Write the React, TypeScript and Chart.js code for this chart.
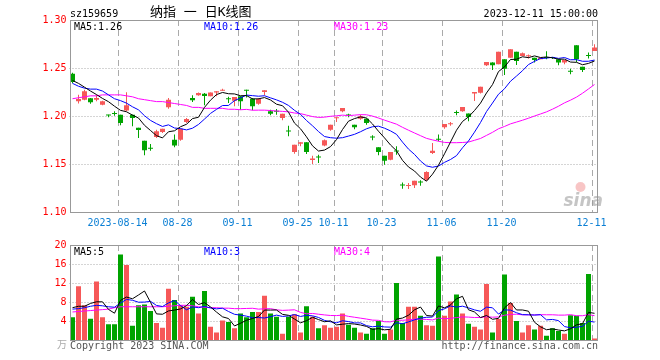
import React, { useEffect, useRef } from 'react';
import { Chart, registerables } from 'chart.js';

Chart.register(...registerables);

// ---------------- data ----------------
const opens = [
  1.2440, 1.2153, 1.2170, 1.2184, 1.2170, 1.2118, 1.2010, 1.2026, 1.2014, 1.2056,
  1.2014, 1.1878, 1.1743, 1.1662, 1.1781, 1.1833, 1.2090, 1.1753, 1.1753, 1.1938,
  1.2187, 1.2215, 1.2233, 1.2205, 1.2246, 1.2264, 1.2178, 1.2160, 1.2205, 1.2268,
  1.2180, 1.2128, 1.2250, 1.2049, 1.2049, 1.1979, 1.1842, 1.1625, 1.1712, 1.1726,
  1.1542, 1.1573, 1.1694, 1.1858, 1.1976, 1.2049, 1.2008, 1.1910, 1.1972, 1.1972,
  1.1780, 1.1674, 1.1587, 1.1545, 1.1635, 1.1280, 1.1270, 1.1278, 1.1310, 1.1337,
  1.1615, 1.1757, 1.1882, 1.1915, 1.2036, 1.2049, 1.2025, 1.2235, 1.2242, 1.2528,
  1.2556, 1.2538, 1.2591, 1.2608, 1.2668, 1.2626, 1.2622, 1.2608, 1.2591, 1.2612,
  1.2610, 1.2591, 1.2556, 1.2464, 1.2737, 1.2514, 1.2628, 1.2678,
];
const highs = [
  1.2450, 1.2222, 1.2274, 1.2187, 1.2222, 1.2160, 1.2014, 1.2049, 1.2014, 1.2247,
  1.2014, 1.1878, 1.1743, 1.1708, 1.1858, 1.1868, 1.2187, 1.1806, 1.1868, 1.1979,
  1.2215, 1.2245, 1.2240, 1.2246, 1.2257, 1.2285, 1.2201, 1.2198, 1.2205, 1.2274,
  1.2187, 1.2187, 1.2267, 1.2066, 1.2073, 1.2024, 1.1899, 1.1701, 1.1726, 1.1726,
  1.1587, 1.1597, 1.1754, 1.1910, 1.1986, 1.2083, 1.2024, 1.1910, 1.2014, 1.1976,
  1.1799, 1.1674, 1.1587, 1.1625, 1.1684, 1.1306, 1.1302, 1.1326, 1.1330, 1.1424,
  1.1719, 1.1806, 1.1917, 1.1938, 1.2056, 1.2094, 1.2025, 1.2249, 1.2305, 1.2563,
  1.2560, 1.2668, 1.2591, 1.2695, 1.2668, 1.2661, 1.2640, 1.2608, 1.2608, 1.2675,
  1.2615, 1.2591, 1.2584, 1.2493, 1.2737, 1.2514, 1.2661, 1.2748,
];
const lows = [
  1.2340, 1.2129, 1.2163, 1.2128, 1.2153, 1.2111, 1.1986, 1.2003, 1.1903, 1.2049,
  1.1892, 1.1771, 1.1590, 1.1639, 1.1771, 1.1823, 1.2076, 1.1674, 1.1743, 1.1927,
  1.2146, 1.2212, 1.2111, 1.2205, 1.2205, 1.2264, 1.2135, 1.2101, 1.2066, 1.2194,
  1.2059, 1.2118, 1.2215, 1.2007, 1.2014, 1.1955, 1.1788, 1.1608, 1.1684, 1.1604,
  1.1500, 1.1511, 1.1684, 1.1847, 1.1938, 1.2038, 1.1986, 1.1861, 1.1962, 1.1910,
  1.1747, 1.1590, 1.1493, 1.1538, 1.1597, 1.1243, 1.1240, 1.1250, 1.1274, 1.1326,
  1.1604, 1.1736, 1.1868, 1.1899, 1.2007, 1.2045, 1.1945, 1.2155, 1.2235, 1.2521,
  1.2479, 1.2538, 1.2427, 1.2608, 1.2531, 1.2626, 1.2598, 1.2556, 1.2591, 1.2591,
  1.2595, 1.2528, 1.2538, 1.2434, 1.2563, 1.2458, 1.2598, 1.2678,
];
const closes = [
  1.2354, 1.2177, 1.2257, 1.2142, 1.2187, 1.2153, 1.2005, 1.2022, 1.1927, 1.2111,
  1.1979, 1.1854, 1.1642, 1.1658, 1.1840, 1.1868, 1.2170, 1.1694, 1.1868, 1.1969,
  1.2163, 1.2240, 1.2208, 1.2246, 1.2257, 1.2274, 1.2175, 1.2198, 1.2153, 1.2264,
  1.2101, 1.2177, 1.2267, 1.2024, 1.2045, 1.2024, 1.1838, 1.1701, 1.1726, 1.1625,
  1.1556, 1.1569, 1.1747, 1.1910, 1.1986, 1.2083, 1.2005, 1.1882, 1.1997, 1.1927,
  1.1776, 1.1625, 1.1535, 1.1625, 1.1630, 1.1276, 1.1280, 1.1326, 1.1306, 1.1417,
  1.1639, 1.1753, 1.1917, 1.1920, 1.2032, 1.2094, 1.1990, 1.2249, 1.2305, 1.2563,
  1.2528, 1.2668, 1.2493, 1.2695, 1.2573, 1.2654, 1.2626, 1.2584, 1.2608, 1.2605,
  1.2605, 1.2556, 1.2584, 1.2460, 1.2591, 1.2479, 1.2624, 1.2713,
];
const ma5 = [
  1.237, 1.234, 1.230, 1.226, 1.2223, 1.2183, 1.2149, 1.2102, 1.2059, 1.2044,
  1.2009, 1.1979, 1.1903, 1.1849, 1.1795, 1.1772, 1.1836, 1.1846, 1.1888, 1.1914,
  1.1973, 1.1987, 1.2090, 1.2165, 1.2223, 1.2245, 1.2232, 1.2230, 1.2211, 1.2213,
  1.2178, 1.2179, 1.2192, 1.2167, 1.2123, 1.2107, 1.2040, 1.1926, 1.1867, 1.1783,
  1.1689, 1.1635, 1.1645, 1.1681, 1.1754, 1.1859, 1.1946, 1.1973, 1.1991, 1.1979,
  1.1917, 1.1841, 1.1772, 1.1698, 1.1638, 1.1538, 1.1469, 1.1427, 1.1364, 1.1321,
  1.1394, 1.1488, 1.1606, 1.1729, 1.1852, 1.1943, 1.1991, 1.2057, 1.2134, 1.2240,
  1.2327, 1.2463, 1.2511, 1.2589, 1.2591, 1.2617, 1.2608, 1.2626, 1.2609, 1.2615,
  1.2606, 1.2592, 1.2592, 1.2562, 1.2559, 1.2534, 1.2548, 1.2573,
];
const ma10 = [
  1.234, 1.231, 1.229, 1.228, 1.228, 1.226, 1.222, 1.218, 1.216, 1.2134,
  1.2096, 1.2064, 1.2003, 1.1954, 1.1920, 1.1891, 1.1908, 1.1875, 1.1869, 1.1855,
  1.1873, 1.1912, 1.1968, 1.2027, 1.2069, 1.2109, 1.2110, 1.2160, 1.2188, 1.2218,
  1.2212, 1.2206, 1.2211, 1.2189, 1.2168, 1.2143, 1.2110, 1.2059, 1.2017, 1.1953,
  1.1898, 1.1838, 1.1786, 1.1774, 1.1769, 1.1774, 1.1791, 1.1809, 1.1836, 1.1867,
  1.1888, 1.1894, 1.1873, 1.1845, 1.1809, 1.1728, 1.1655, 1.1600, 1.1531, 1.1480,
  1.1466, 1.1479, 1.1517, 1.1547, 1.1587, 1.1669, 1.1740, 1.1832, 1.1932, 1.2046,
  1.2135, 1.2227, 1.2284, 1.2362, 1.2416, 1.2472, 1.2536, 1.2569, 1.2599, 1.2603,
  1.2612, 1.2600, 1.2609, 1.2586, 1.2587, 1.2570, 1.2570, 1.2583,
];
const ma30 = [
  1.218, 1.219, 1.220, 1.221, 1.221, 1.222, 1.222, 1.222, 1.222, 1.221,
  1.220, 1.218, 1.217, 1.216, 1.215, 1.215, 1.214, 1.213, 1.212, 1.211,
  1.209, 1.209, 1.208, 1.208, 1.208, 1.208, 1.207, 1.207, 1.2065, 1.2069,
  1.2060, 1.2061, 1.2061, 1.2057, 1.2052, 1.2048, 1.2043, 1.2031, 1.2025, 1.2009,
  1.1994, 1.1985, 1.1988, 1.1997, 1.2002, 1.2009, 1.2004, 1.2009, 1.2014, 1.2013,
  1.1999, 1.1979, 1.1957, 1.1936, 1.1915, 1.1882, 1.1852, 1.1823, 1.1795, 1.1767,
  1.1751, 1.1737, 1.1725, 1.1722, 1.1722, 1.1724, 1.1729, 1.1747, 1.1766, 1.1798,
  1.1830, 1.1867, 1.1891, 1.1918, 1.1937, 1.1956, 1.1977, 1.2000, 1.2021, 1.2043,
  1.2071, 1.2102, 1.2137, 1.2165, 1.2197, 1.2237, 1.2282, 1.2328,
];
const volumes = [
  4.8, 11.3, 7.3, 4.5, 12.3, 4.8, 3.3, 3.3, 18.0, 15.8,
  3.0, 7.3, 7.5, 6.1, 3.6, 2.6, 10.8, 8.4, 7.3, 7.0,
  9.1, 5.6, 10.3, 2.8, 1.6, 4.1, 3.8, 2.5, 5.6, 4.8,
  5.9, 5.9, 9.3, 5.6, 4.9, 1.3, 4.9, 5.4, 1.6, 7.1,
  4.9, 2.5, 3.1, 2.6, 2.8, 5.6, 3.2, 2.6, 1.6, 1.3,
  2.5, 4.0, 1.3, 2.2, 12.0, 3.6, 7.0, 7.0, 5.1, 3.1,
  3.0, 17.6, 5.1, 8.1, 9.6, 5.6, 3.4, 2.8, 2.2, 11.8,
  1.6, 4.4, 13.8, 7.8, 4.0, 1.6, 3.1, 2.2, 3.0, 0.9,
  2.5, 1.9, 1.3, 5.2, 5.1, 3.6, 13.9, 0.3,
];
const volMa5 = [
  6.8, 7.1, 7.1, 7.7, 8.04, 8.04, 6.44, 5.64, 8.34, 9.04,
  8.68, 9.48, 10.32, 7.94, 5.5, 5.42, 6.12, 6.3, 6.54, 7.22,
  8.52, 7.48, 7.86, 6.96, 5.88, 4.88, 4.52, 2.96, 3.52, 4.16,
  4.52, 4.94, 6.3, 6.3, 6.32, 5.4, 5.2, 4.42, 3.62, 4.06,
  4.78, 4.3, 3.84, 4.04, 3.18, 3.32, 3.46, 3.36, 3.16, 2.86,
  2.24, 2.4, 2.14, 2.26, 4.4, 4.62, 5.22, 6.36, 6.94, 5.16,
  5.04, 7.16, 6.78, 7.38, 8.68, 9.2, 6.36, 5.9, 4.72, 5.16,
  4.36, 4.56, 6.76, 7.88, 6.32, 6.32, 6.06, 3.74, 2.78, 2.16,
  2.34, 2.1, 1.92, 2.36, 3.2, 3.42, 5.82, 5.62,
];
const volMa10 = [
  6.5, 6.6, 6.8, 7.1, 7.3, 7.2, 7.0, 6.9, 7.8, 8.54,
  8.36, 7.96, 7.98, 8.14, 7.27, 7.05, 7.8, 8.31, 7.24, 6.36,
  6.97, 6.8, 7.08, 6.75, 6.55, 6.7, 6.0, 5.41, 5.24, 5.02,
  4.7, 4.73, 4.63, 4.91, 5.24, 4.96, 5.07, 5.36, 4.96, 5.19,
  5.09, 4.75, 4.13, 3.83, 3.62, 4.05, 3.88, 3.6, 3.6, 3.02,
  2.78, 2.93, 2.75, 2.71, 3.63, 3.43, 3.81, 4.25, 4.6, 4.78,
  4.83, 6.19, 6.57, 7.16, 6.92, 7.12, 6.76, 6.34, 6.05, 6.92,
  6.78, 5.46, 6.33, 6.3, 5.74, 5.34, 5.31, 5.25, 5.33, 4.24,
  4.33, 4.08, 2.83, 2.57, 2.68, 2.88, 3.96, 3.77,
];
const volMa30 = [
  5.9, 6.0, 6.1, 6.2, 6.3, 6.4, 6.5, 6.8, 7.0, 7.0,
  7.0, 7.0, 7.0, 7.0, 7.0, 7.0, 7.1, 7.2, 7.3, 7.3,
  7.2, 7.0, 6.9, 6.8, 6.8, 6.7, 6.7, 6.6, 6.6, 6.64,
  6.68, 6.5, 6.56, 6.6, 6.35, 6.24, 6.29, 6.36, 5.81, 5.52,
  5.59, 5.43, 5.28, 5.16, 5.14, 5.24, 4.98, 4.79, 4.6, 4.41,
  4.19, 4.14, 3.84, 3.82, 4.16, 4.15, 4.25, 4.4, 4.39, 4.33,
  4.23, 4.62, 4.48, 4.57, 4.72, 4.87, 4.82, 4.73, 4.75, 4.91,
  4.8, 4.86, 5.22, 5.39, 5.43, 5.3, 5.29, 5.28, 5.33, 5.31,
  5.31, 5.24, 5.24, 5.34, 5.11, 5.11, 5.34, 5.12,
];
const dateTickIndex = [8, 18, 28, 38, 44, 52, 62, 72, 87];
const dateTickLabels = ['2023-08-14', '08-28', '09-11', '09-25', '10-11', '10-23', '11-06', '11-20', '12-11'];
const priceMin = 1.1;
const priceMax = 1.3;
const priceStep = 0.05;
const volMin = 0;
const volMax = 20;
const volStep = 4;

const symbolText = 'sz159659';
const titleText = '纳指 一 日K线图';
const timeText = '2023-12-11 15:00:00';
const priceLegend = ['MA5:1.26', 'MA10:1.26', 'MA30:1.23'];
const volLegend = ['MA5:5', 'MA10:3', 'MA30:4'];
const volUnit = '万';
const copyrightText = 'Copyright 2023 SINA.COM';
const urlText = 'http://finance.sina.com.cn';

// ---------------- style ----------------
const MONO = "'DejaVu Sans Mono', 'Liberation Mono', monospace";
const UP = '#f65858';
const DOWN = '#00a300';
const GRID = '#aaaaaa';
const BORDER = '#999999';
const LABEL_RED = '#ff0000';
const LABEL_BLUE = '#0b7fd4';
const LINE_COLORS = ['#000000', '#0000ff', '#ff00ff'];
const N = closes.length;
const candleColors = closes.map((c, i) => (c >= opens[i] ? UP : DOWN));
const xOf = (i: number) => i + 0.5;

function drawGrid(chart: any) {
  const { ctx, chartArea: a, scales } = chart;
  const x = scales.x;
  const y = scales.y;
  ctx.save();
  ctx.strokeStyle = GRID;
  ctx.lineWidth = 1;
  ctx.setLineDash([1, 2]);
  y.ticks.forEach((t: any) => {
    if (t.value <= y.min + 1e-9 || t.value >= y.max - 1e-9) return;
    const py = Math.round(y.getPixelForValue(t.value)) + 0.5;
    ctx.beginPath();
    ctx.moveTo(a.left, py);
    ctx.lineTo(a.right, py);
    ctx.stroke();
  });
  ctx.setLineDash([6, 4]);
  dateTickIndex.forEach((v) => {
    const px = Math.round(x.getPixelForValue(v)) + 0.5;
    ctx.beginPath();
    ctx.moveTo(px, a.top);
    ctx.lineTo(px, a.bottom);
    ctx.stroke();
  });
  ctx.restore();
}

function drawBorder(chart: any) {
  const { ctx, chartArea: a } = chart;
  const L = Math.round(a.left) + 0.5;
  const T = Math.round(a.top) + 0.5;
  const R = Math.round(a.right) - 0.5;
  const B = Math.round(a.bottom) + 0.5;
  ctx.save();
  ctx.strokeStyle = BORDER;
  ctx.lineWidth = 1;
  ctx.setLineDash([]);
  ctx.strokeRect(L, T, R - L, B - T);
  ctx.restore();
}

function drawLegend(chart: any, texts: string[]) {
  const { ctx, chartArea: a } = chart;
  ctx.save();
  ctx.font = `10px ${MONO}`;
  ctx.textBaseline = 'alphabetic';
  ctx.textAlign = 'left';
  texts.forEach((t, k) => {
    ctx.fillStyle = LINE_COLORS[k];
    ctx.fillText(t, Math.round(a.left) + 4 + k * 130, Math.round(a.top) + 10);
  });
  ctx.restore();
}

const mainDecor = {
  id: 'mainDecor',
  beforeDatasetsDraw(chart: any) {
    drawGrid(chart);
  },
  afterDraw(chart: any) {
    const { ctx, chartArea: a } = chart;
    drawBorder(chart);
    drawLegend(chart, priceLegend);
    ctx.save();
    ctx.fillStyle = '#000';
    ctx.font = `10px ${MONO}`;
    ctx.textAlign = 'left';
    ctx.fillText(symbolText, Math.round(a.left), 17);
    ctx.font = `13px 'DejaVu Sans Mono', 'Noto Sans CJK SC', sans-serif`;
    ctx.fillText(titleText, 150, 16);
    ctx.font = `10px ${MONO}`;
    ctx.textAlign = 'right';
    ctx.fillText(timeText, Math.round(a.right), 17);
    // sina watermark
    ctx.textAlign = 'left';
    ctx.font = `italic bold 17px 'DejaVu Sans', sans-serif`;
    ctx.fillStyle = 'rgba(150,150,150,0.55)';
    ctx.fillText('sina', a.right - 34, a.bottom - 6);
    ctx.fillStyle = 'rgba(235,90,90,0.35)';
    ctx.beginPath();
    ctx.arc(a.right - 17, a.bottom - 25, 5, 0, Math.PI * 2);
    ctx.fill();
    ctx.restore();
  },
};

const volDecor = {
  id: 'volDecor',
  beforeDatasetsDraw(chart: any) {
    drawGrid(chart);
  },
  afterDraw(chart: any) {
    const { ctx, chartArea: a } = chart;
    drawBorder(chart);
    drawLegend(chart, volLegend);
    ctx.save();
    ctx.font = `10px ${MONO}`;
    ctx.fillStyle = '#555555';
    ctx.textAlign = 'left';
    ctx.fillText(copyrightText, Math.round(a.left), Math.round(a.bottom) + 9);
    ctx.textAlign = 'right';
    ctx.fillText(urlText, Math.round(a.right), Math.round(a.bottom) + 9);
    ctx.font = `10px 'Noto Sans CJK SC', sans-serif`;
    ctx.fillStyle = '#aaaaaa';
    ctx.fillText(volUnit, Math.round(a.left) - 3, Math.round(a.bottom) + 8);
    ctx.restore();
  },
};

function lineDs(values: number[], color: string) {
  return {
    type: 'line' as const,
    data: values.map((v, i) => ({ x: xOf(i), y: v })),
    borderColor: color,
    borderWidth: 1,
    pointRadius: 0,
    tension: 0,
    fill: false,
    order: 0,
  };
}

const baseX = (showTicks: boolean) => ({
  type: 'linear' as const,
  min: 0,
  max: N,
  offset: false,
  display: showTicks,
  afterBuildTicks: (s: any) => {
    s.ticks = dateTickIndex.map((v) => ({ value: v }));
  },
  ticks: {
    autoSkip: false,
    maxRotation: 0,
    minRotation: 0,
    padding: 5,
    color: LABEL_BLUE,
    font: { family: MONO, size: 10 },
    callback: (v: any) => {
      const k = dateTickIndex.indexOf(Number(v));
      return k >= 0 ? dateTickLabels[k] : '';
    },
  },
  grid: { display: false, drawTicks: false, offset: false },
  border: { display: false },
  afterFit: (s: any) => {
    s.height = showTicks ? 24 : 0;
  },
});

export default function App() {
  const mainRef = useRef<HTMLCanvasElement | null>(null);
  const volRef = useRef<HTMLCanvasElement | null>(null);

  useEffect(() => {
    if (!mainRef.current || !volRef.current) return;
    const main = new Chart(mainRef.current, {
      type: 'bar',
      data: {
        datasets: [
          lineDs(ma5, LINE_COLORS[0]),
          lineDs(ma10, LINE_COLORS[1]),
          lineDs(ma30, LINE_COLORS[2]),
          {
            type: 'bar',
            data: closes.map((c, i) => ({ x: xOf(i), y: [opens[i], c] })),
            backgroundColor: candleColors,
            barThickness: 5,
            grouped: false,
            minBarLength: 1,
            inflateAmount: 0,
            borderWidth: 0,
            order: 1,
          } as any,
          {
            type: 'bar',
            data: lows.map((l, i) => ({ x: xOf(i), y: [l, highs[i]] })),
            backgroundColor: candleColors,
            barThickness: 1,
            grouped: false,
            minBarLength: 1,
            inflateAmount: 0,
            borderWidth: 0,
            order: 2,
          } as any,
        ],
      },
      options: {
        responsive: false,
        animation: false,
        events: [],
        devicePixelRatio: 1,
        layout: { padding: { left: 0, right: 62.5, top: 20, bottom: 0 } },
        plugins: { legend: { display: false }, tooltip: { enabled: false }, title: { display: false } },
        scales: {
          x: baseX(true) as any,
          y: {
            type: 'linear',
            min: priceMin,
            max: priceMax,
            ticks: {
              stepSize: priceStep,
              autoSkip: false,
              padding: 3,
              color: LABEL_RED,
              font: { family: MONO, size: 10 },
              callback: (v: any) => Number(v).toFixed(2),
            },
            grid: { display: false, drawTicks: false },
            border: { display: false },
            afterFit: (s: any) => {
              s.width = 69.5;
            },
          } as any,
        },
      },
      plugins: [mainDecor],
    });

    const vol = new Chart(volRef.current, {
      type: 'bar',
      data: {
        datasets: [
          lineDs(volMa5, LINE_COLORS[0]),
          lineDs(volMa10, LINE_COLORS[1]),
          lineDs(volMa30, LINE_COLORS[2]),
          {
            type: 'bar',
            data: volumes.map((v, i) => ({ x: xOf(i), y: v })),
            backgroundColor: candleColors,
            barThickness: 5,
            grouped: false,
            inflateAmount: 0,
            borderWidth: 0,
            order: 1,
          } as any,
        ],
      },
      options: {
        responsive: false,
        animation: false,
        events: [],
        devicePixelRatio: 1,
        layout: { padding: { left: 0, right: 62.5, top: 4, bottom: 20 } },
        plugins: { legend: { display: false }, tooltip: { enabled: false }, title: { display: false } },
        scales: {
          x: baseX(false) as any,
          y: {
            type: 'linear',
            min: volMin,
            max: volMax,
            ticks: {
              stepSize: volStep,
              autoSkip: false,
              padding: 3,
              color: LABEL_RED,
              font: { family: MONO, size: 10 },
              callback: (v: any) => (Number(v) === 0 ? '' : String(v)),
            },
            grid: { display: false, drawTicks: false },
            border: { display: false },
            afterFit: (s: any) => {
              s.width = 69.5;
            },
          } as any,
        },
      },
      plugins: [volDecor],
    });

    return () => {
      main.destroy();
      vol.destroy();
    };
  }, []);

  return (
    <div style={{ position: 'absolute', left: 0, top: 0, width: 660, height: 360, background: '#fff', overflow: 'hidden' }}>
      <canvas ref={mainRef} width={660} height={236} style={{ position: 'absolute', left: 0, top: 0, width: 660, height: 236 }} />
      <canvas ref={volRef} width={660} height={124} style={{ position: 'absolute', left: 0, top: 236, width: 660, height: 124 }} />
    </div>
  );
}
